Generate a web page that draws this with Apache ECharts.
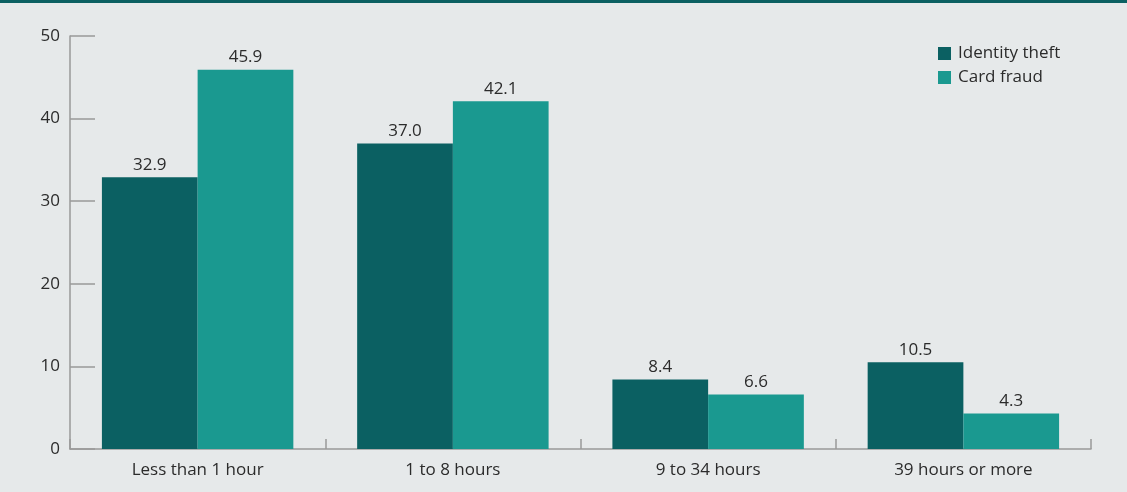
<!DOCTYPE html>
<html><head><meta charset="utf-8">
<script src="https://cdn.jsdelivr.net/npm/echarts@6/dist/echarts.min.js"></script>
<style>html,body{margin:0;padding:0;background:#e6e9ea}#c{width:1127px;height:492px}</style>
</head><body><div id="c"></div>
<script>
const categories = ["Less than 1 hour", "1 to 8 hours", "9 to 34 hours", "39 hours or more"];
const identityTheft = [32.9, 37.0, 8.4, 10.5];
const cardFraud = [45.9, 42.1, 6.6, 4.3];
const yTicks = [0, 10, 20, 30, 40, 50];

const chart = echarts.init(document.getElementById('c'));
const font = '"Open Sans", sans-serif';
const lbl = {show:true, position:'top', distance:4, color:'#2b2b2b', fontSize:17, fontFamily:font, formatter: p => p.value.toFixed(1)};
chart.setOption({
  backgroundColor:'#e6e9ea',
  animation:false,
  graphic:[{type:'rect', shape:{x:0,y:0,width:1127,height:3}, style:{fill:'#0b6062'}}],
  legend:{orient:'vertical', left:933, top:40, itemWidth:13, itemHeight:13, itemGap:7, icon:'rect',
    textStyle:{color:'#2b2b2b', fontSize:17, fontFamily:font, padding:[0,0,0,2]},
    data:['Identity theft','Card fraud']},
  grid:{left:70, right:36, top:36, bottom:43},
  xAxis:{type:'category', data:categories,
    axisLine:{lineStyle:{color:'#999', width:1.5}},
    axisTick:{show:true, inside:true, length:10, lineStyle:{color:'#999', width:1.5}},
    axisLabel:{color:'#2b2b2b', fontSize:17, fontFamily:font, margin:13}},
  yAxis:{type:'value', min:0, max:50, interval:10,
    axisLine:{show:true, lineStyle:{color:'#999', width:1.5}},
    axisTick:{show:true, inside:true, length:25, lineStyle:{color:'#999', width:1.5}},
    splitLine:{show:false},
    axisLabel:{color:'#2b2b2b', fontSize:17, fontFamily:font, margin:10,
      formatter: v => yTicks.includes(v) ? String(v) : ''}},
  series:[
    {name:'Identity theft', type:'bar', data:identityTheft, itemStyle:{color:'#0b6062'}, barGap:'0%', barCategoryGap:'25%', label:lbl},
    {name:'Card fraud', type:'bar', data:cardFraud, itemStyle:{color:'#1a9990'}, label:lbl}
  ]
});
</script></body></html>
